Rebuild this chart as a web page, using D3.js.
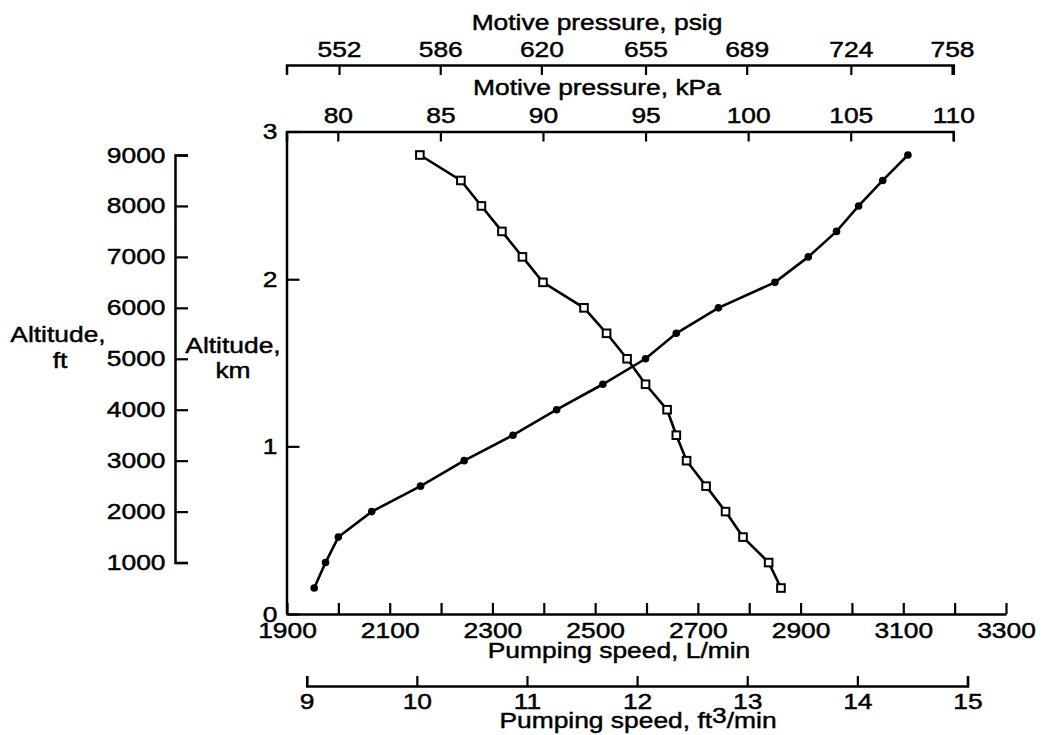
<!DOCTYPE html>
<html><head><meta charset="utf-8">
<script src="https://cdn.jsdelivr.net/npm/d3@7"></script>
<style>
body{margin:0;background:#fff;}
svg{display:block;background:#fff;}
text{font-family:"Liberation Sans",Arial,Helvetica,sans-serif;font-size:22px;fill:#000;stroke:#000;stroke-width:0.45px;}
</style></head><body>
<svg id="chart" width="1045" height="735"></svg>
<script>
// ---------- data ----------
const altitudeFt = [500,1000,1500,2000,2500,3000,3500,4000,4500,5000,5500,6000,6500,7000,7500,8000,8500,9000];
const pumpingSpeedLmin = [1953,1975,2000,2065,2160,2245,2340,2425,2515,2598,2658,2740,2850,2915,2970,3013,3060,3109];
const motivePressureKPa = [101.6,101.0,99.75,98.9,97.95,97.0,96.5,96.05,95.0,94.1,93.1,92.0,90.0,89.0,88.0,87.0,86.0,84.0];

const speedTicksLmin = [1900,2000,2100,2200,2300,2400,2500,2600,2700,2800,2900,3000,3100,3200,3300];
const speedLabelsLmin = [1900,2100,2300,2500,2700,2900,3100,3300];
const speedTicksFt3 = [9,10,11,12,13,14,15];
const kPaTicks = [80,85,90,95,100,105,110];
const psigTicks = [552,586,620,655,689,724,758];
const ftTicks = [1000,2000,3000,4000,5000,6000,7000,8000,9000];
const kmTicks = [0,1,2,3];

// ---------- layout ----------
const SX = 1.2;              // horizontal stretch of the lettering
const plotLeft = 286.5, plotTop = 131.5, plotBottom = 614;
const psigAxisY = 65, ft3AxisY = 686, ftAxisX = 175;

const svg = d3.select("#chart");

// ---------- scales ----------
const x = d3.scaleLinear().domain([1900,3300]).range([287,1006]);
const xFt3 = d3.scaleLinear().domain([9,15]).range([306.7,967.5]);
const xKPa = d3.scaleLinear().domain([77.5,110]).range([plotLeft,953.3]);
const xPsig = d3.scaleLinear().domain([77.5*6.8948,110*6.8948]).range([plotLeft,953.3]);
const yFt = d3.scaleLinear().domain([0,9000]).range([613.5,155]);
const yKm = d3.scaleLinear().domain([0,1,2,3])
  .range([plotBottom, yFt(3280.84), yFt(6561.68), plotTop]);
const yFtAxis = d3.scaleLinear().domain([1000,9000]).range([yFt(1000), yFt(9000)]);

function stretch(sel){
  sel.each(function(){
    const t = d3.select(this);
    const xv = +t.attr("x") || 0;
    t.attr("x", xv / SX).attr("transform", `scale(${SX},1)`);
  });
}
function styleAxis(g){
  g.attr("font-size", null).attr("font-family", null);
  g.select(".domain").attr("stroke","#000").attr("stroke-width",2.5).attr("fill","none");
  g.selectAll(".tick line").attr("stroke","#000").attr("stroke-width",2.2);
}

// psig axis (top-most)
const gPsig = svg.append("g").attr("transform",`translate(0,${psigAxisY})`)
  .call(d3.axisBottom(xPsig).tickValues(psigTicks).tickSize(10).tickSizeOuter(10).tickFormat(d3.format("d")));
styleAxis(gPsig);
gPsig.selectAll(".tick text").attr("y",-8).attr("dy","0");
stretch(gPsig.selectAll(".tick text"));

// kPa axis (top border of plot)
const gKPa = svg.append("g").attr("transform",`translate(0,${plotTop})`)
  .call(d3.axisBottom(xKPa).tickValues(kPaTicks).tickSize(10).tickSizeOuter(10).tickFormat(d3.format("d")));
styleAxis(gKPa);
gKPa.selectAll(".tick text").attr("y",-8.5).attr("dy","0");
stretch(gKPa.selectAll(".tick text"));

// km axis (left border of plot)
const gKm = svg.append("g").attr("transform",`translate(${plotLeft},0)`)
  .call(d3.axisRight(yKm).tickValues(kmTicks).tickSize(13).tickSizeOuter(0).tickFormat(d3.format("d")));
styleAxis(gKm);
gKm.selectAll(".tick text").attr("x",-9).attr("text-anchor","end");
stretch(gKm.selectAll(".tick text"));

// L/min axis (bottom of plot)
const gX = svg.append("g").attr("transform",`translate(0,${plotBottom})`)
  .call(d3.axisTop(x).tickValues(speedTicksLmin).tickSize(11).tickSizeOuter(0)
    .tickFormat(d => speedLabelsLmin.includes(d) ? d : ""));
styleAxis(gX);
gX.selectAll(".tick text").attr("y",24).attr("dy","0");
stretch(gX.selectAll(".tick text"));

// ft3/min axis
const gFt3 = svg.append("g").attr("transform",`translate(0,${ft3AxisY})`)
  .call(d3.axisTop(xFt3).tickValues(speedTicksFt3).tickSize(10).tickSizeOuter(10).tickFormat(d3.format("d")));
styleAxis(gFt3);
gFt3.selectAll(".tick text").attr("y",23).attr("dy","0");
stretch(gFt3.selectAll(".tick text"));

// ft axis (far left)
const gFt = svg.append("g").attr("transform",`translate(${ftAxisX},0)`)
  .call(d3.axisRight(yFtAxis).tickValues(ftTicks).tickSize(13).tickSizeOuter(13).tickFormat(d3.format("d")));
styleAxis(gFt);
gFt.selectAll(".tick text").attr("x",-9.5).attr("text-anchor","end");
stretch(gFt.selectAll(".tick text"));

// ---------- axis titles ----------
function label(cx, cy, str){
  const t = svg.append("g").attr("transform",`translate(${cx},${cy})`)
    .append("text").attr("text-anchor","middle").attr("transform",`scale(${SX},1)`);
  t.text(str);
  return t;
}
label(597, 30, "Motive pressure, psig");
label(597, 95, "Motive pressure, kPa");
label(619, 658, "Pumping speed, L/min");
const ft3Title = svg.append("g").attr("transform","translate(638,728)")
  .append("text").attr("text-anchor","middle").attr("transform",`scale(${SX},1)`);
ft3Title.append("tspan").text("Pumping speed, ft");
ft3Title.append("tspan").attr("dy",-5).text("3");
ft3Title.append("tspan").attr("dy",5).text("/min");
label(58, 342, "Altitude,");
label(60, 368, "ft");
label(233, 353, "Altitude,");
label(233, 378, "km");

// ---------- data series ----------
const speedPts = altitudeFt.map((a,i)=>({alt:a, v:pumpingSpeedLmin[i]}));
const pressPts = altitudeFt.map((a,i)=>({alt:a, v:motivePressureKPa[i]}));

svg.append("path").datum(speedPts)
  .attr("fill","none").attr("stroke","#000").attr("stroke-width",2.6)
  .attr("d", d3.line().x(d=>x(d.v)).y(d=>yFt(d.alt)));
svg.append("path").datum(pressPts)
  .attr("fill","none").attr("stroke","#000").attr("stroke-width",2.6)
  .attr("d", d3.line().x(d=>xKPa(d.v)).y(d=>yFt(d.alt)));

svg.append("g").selectAll("circle").data(speedPts).join("circle")
  .attr("cx",d=>x(d.v)).attr("cy",d=>yFt(d.alt)).attr("r",3.8).attr("fill","#000");

svg.append("g").selectAll("rect").data(pressPts).join("rect")
  .attr("x",d=>xKPa(d.v)-3.8).attr("y",d=>yFt(d.alt)-3.8)
  .attr("width",7.6).attr("height",7.6)
  .attr("fill","#fff").attr("stroke","#000").attr("stroke-width",2);
</script>
</body></html>
